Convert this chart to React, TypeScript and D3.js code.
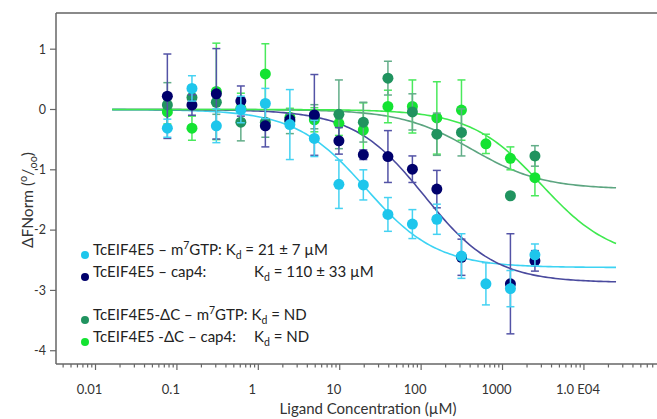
import React from "react";
import * as d3 from "d3";

// Ligand concentrations (µM), 2-fold dilution series
const concentrations = [0.0763, 0.153, 0.305, 0.61, 1.22, 2.44, 4.88, 9.77, 19.5, 39.1, 78.1, 156, 313, 625, 1250, 2500];

// TcEIF4E5 – m7GTP
const cyanVals = [-0.31, 0.35, -0.27, 0.0, 0.1, -0.25, -0.48, -1.24, -1.25, -1.74, -1.9, -1.82, -2.43, -2.89, -2.97, -2.41];
const cyanErr = [0.15, 0.21, 0.28, 0.22, 0.25, 0.58, 0.3, 0.4, 0.25, 0.28, 0.24, 0.25, 0.37, 0.35, 0.3, 0.18];
// TcEIF4E5 – cap4
const navyVals = [0.22, 0.075, 0.26, 0.14, -0.27, -0.17, -0.09, -0.52, -0.75, -0.78, -0.99, -1.32, -2.45, null, -2.89, -2.51];
const navyErr = [0.7, 0.17, 0.75, 0.25, 0.35, 0.1, 0.67, 0.22, 0.08, 0.43, 0.22, 0.31, 0.3, null, 0.83, 0.17];
// TcEIF4E5-ΔC – m7GTP
const dkGreenVals = [0.075, 0.2, 0.12, -0.21, -0.21, -0.2, -0.12, -0.08, -0.21, 0.52, -0.04, -0.41, -0.38, null, -1.43, -0.77];
const dkGreenErr = [0.37, 0.2, 0.2, 0.31, 0.25, 0.2, 0.2, 0.57, 0.33, 0.28, 0.3, 0.35, 0.39, null, 0, 0.17];
// TcEIF4E5 -ΔC – cap4
const greenVals = [-0.04, -0.31, 0.3, 0.02, 0.59, -0.13, -0.17, -0.23, -0.34, 0.05, 0.05, -0.14, -0.01, -0.57, -0.81, -1.13];
const greenErr = [0.2, 0.2, 0.8, 0.25, 0.5, 0.15, 0.2, 0.2, 0.45, 0.27, 0.44, 0.6, 0.5, 0.16, 0.19, 0.3];

// fit parameters (Kd in µM, plateau amplitude)
const fitKd = [21, 110, 420, 3000];
const fitPlateau = [-2.62, -2.87, -1.32, -2.49];

const xTickValues = [0.01, 0.1, 1, 10, 100, 1000, 10000];
const xTickLabels = ["0.01", "0.1", "1", "10", "100", "1000", "1.0 E04"];
const yTickValues = [1, 0, -1, -2, -3, -4];

type Seg = { t: string; s?: "sup" | "sub" };
const legendMain: Seg[][] = [
  [{ t: "TcEIF4E5 – m" }, { t: "7", s: "sup" }, { t: "GTP: K" }, { t: "d", s: "sub" }, { t: " = 21 ± 7 µM" }],
  [{ t: "TcEIF4E5 – cap4:" }],
  [{ t: "TcEIF4E5-ΔC – m" }, { t: "7", s: "sup" }, { t: "GTP: K" }, { t: "d", s: "sub" }, { t: " = ND" }],
  [{ t: "TcEIF4E5 -ΔC – cap4:" }],
];
const legendTab: (Seg[] | null)[] = [
  null,
  [{ t: "K" }, { t: "d", s: "sub" }, { t: " = 110 ± 33 µM" }],
  null,
  [{ t: "K" }, { t: "d", s: "sub" }, { t: " = ND" }],
];

const W = 657;
const H = 419;
const LEFT = 56;
const TOP = 13;
const BOTTOM = 364;

const x = d3.scaleLog().domain([0.00327, 79000]).range([LEFT, W]);
const y = d3.scaleLinear().domain([-4.22, 1.6]).range([BOTTOM, TOP]);

const series = [
  { vals: greenVals, err: greenErr, point: "#14e332", bar: "#4ae95c" },
  { vals: dkGreenVals, err: dkGreenErr, point: "#20935f", bar: "#62ad88" },
  { vals: navyVals, err: navyErr, point: "#00006c", bar: "#5353a6" },
  { vals: cyanVals, err: cyanErr, point: "#1ec6ec", bar: "#45d2f2" },
];

const curveColors = ["#3dd3f3", "#4a4a9e", "#5ca580", "#3fe94f"];

function fitPath(i: number) {
  const a = Math.log10(0.016);
  const b = Math.log10(24800);
  const pts = d3.range(0, 201).map((k) => {
    const c = Math.pow(10, a + (k / 200) * (b - a));
    return [c, (fitPlateau[i] * c) / (c + fitKd[i])] as [number, number];
  });
  return d3.line<[number, number]>().x((d) => x(d[0])).y((d) => y(d[1]))(pts) || "";
}

const minorTicks: { v: number; major: boolean }[] = [];
for (let d = -3; d <= 5; d++) {
  for (let m = 1; m <= 9; m++) {
    const v = m * Math.pow(10, d);
    if (v >= 0.00327 && v <= 79000) minorTicks.push({ v, major: m === 1 });
  }
}

const legendColors = ["#1ec6ec", "#00006c", "#20935f", "#14e332"];
const FONT = "Lato, 'Open Sans', sans-serif";

function renderSegs(segs: Seg[], small: number) {
  let cur = 0;
  return segs.map((s, i) => {
    const target = s.s === "sup" ? -6 : s.s === "sub" ? 4 : 0;
    const dy = target - cur;
    cur = target;
    return (
      <tspan key={i} dy={dy} fontSize={s.s ? small : undefined}>
        {s.t}
      </tspan>
    );
  });
}

export default function App() {
  const legendY = [255, 277, 320, 342];
  return (
    <svg width={W} height={H} style={{ position: "absolute", left: 0, top: 0, background: "#fff" }} fontFamily={FONT}>
      {/* frame */}
      <line x1={LEFT} x2={W} y1={TOP} y2={TOP} stroke="#8a8a8a" strokeWidth={2} />
      <line x1={LEFT} x2={LEFT} y1={TOP} y2={BOTTOM} stroke="#666" strokeWidth={1.5} />
      <line x1={LEFT} x2={W} y1={BOTTOM} y2={BOTTOM} stroke="#666" strokeWidth={1.5} />
      {/* y ticks */}
      {yTickValues.map((v) => (
        <g key={v}>
          <line x1={LEFT - 6} x2={LEFT} y1={y(v)} y2={y(v)} stroke="#666" strokeWidth={1.2} />
          <text x={LEFT - 10} y={y(v)} dy="0.35em" textAnchor="end" fontSize={12.5} fill="#333">{v}</text>
        </g>
      ))}
      {/* x ticks */}
      {minorTicks.map((t, i) => (
        <line key={i} x1={x(t.v)} x2={x(t.v)} y1={BOTTOM} y2={BOTTOM + (t.major ? 6 : 3.5)} stroke="#666" strokeWidth={1.2} />
      ))}
      {xTickValues.map((v, i) => (
        <text key={v} x={x(v) - 6} y={394} textAnchor="middle" fontSize={13} fill="#333">{xTickLabels[i]}</text>
      ))}
      <text x={368} y={414} textAnchor="middle" fontSize={15} fill="#333">Ligand Concentration (µM)</text>
      <text transform={`translate(33,200) rotate(-90)`} textAnchor="middle" fontSize={15.5} fill="#333">
        {renderSegs([{ t: "ΔFNorm (" }, { t: "o", s: "sup" }, { t: "/" }, { t: "oo", s: "sub" }, { t: ")" }], 11)}
      </text>
      {/* fit curves */}
      {curveColors.map((c, i) => (
        <path key={i} d={fitPath(i)} fill="none" stroke={c} strokeWidth={1.6} />
      ))}
      {/* data */}
      {series.map((s, si) => (
        <g key={si}>
          {s.vals.map((v, i) => {
            const e = s.err[i];
            if (v === null || e === null || e === 0) return null;
            const cx = x(concentrations[i]);
            return (
              <g key={i} stroke={s.bar} strokeWidth={1.5}>
                <line x1={cx} x2={cx} y1={y(v + e)} y2={y(v - e)} />
                <line x1={cx - 4} x2={cx + 4} y1={y(v + e)} y2={y(v + e)} />
                <line x1={cx - 4} x2={cx + 4} y1={y(v - e)} y2={y(v - e)} />
              </g>
            );
          })}
          {s.vals.map((v, i) =>
            v === null ? null : <circle key={"p" + i} cx={x(concentrations[i])} cy={y(v)} r={5.5} fill={s.point} />
          )}
        </g>
      ))}
      {/* legend */}
      <g fontSize={15} fill="#222">
        {legendColors.map((c, i) => (
          <circle key={i} cx={85} cy={legendY[i]} r={4} fill={c} />
        ))}
        {legendMain.map((segs, i) => (
          <text key={"m" + i} x={93} y={legendY[i]} dy="0.35em">{renderSegs(segs, 10.5)}</text>
        ))}
        {legendTab.map((segs, i) =>
          segs ? (
            <text key={"t" + i} x={254} y={legendY[i]} dy="0.35em">{renderSegs(segs, 10.5)}</text>
          ) : null
        )}
      </g>
    </svg>
  );
}
